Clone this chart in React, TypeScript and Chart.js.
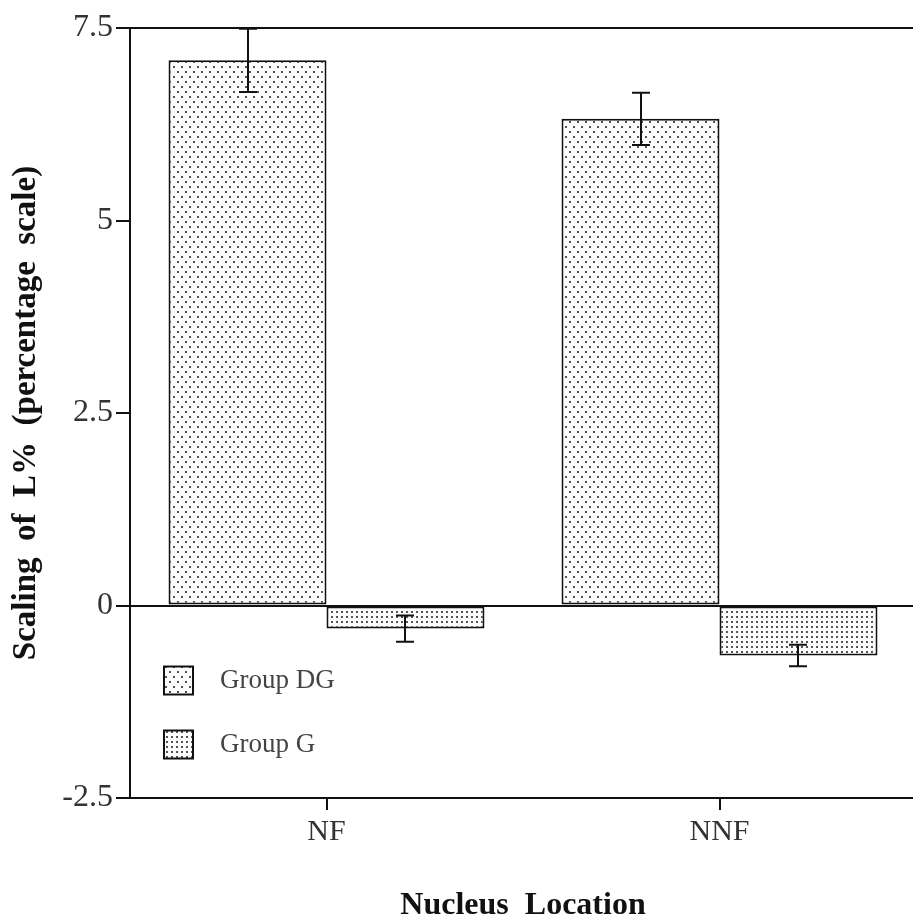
import React, { useEffect, useRef } from "react";
import { Chart, registerables } from "chart.js";

Chart.register(...registerables);

const categories = ["NF", "NNF"];
const groupDG = [7.08, 6.32];
const groupDGErr = [0.41, 0.34];
const groupG = [-0.3, -0.65];
const groupGErr = [0.17, 0.14];
const yTickValues = [-2.5, 0, 2.5, 5, 7.5];
const seriesNames = ["Group DG", "Group G"];
const xTitle = "Nucleus  Location";
const yTitle = "Scaling  of  L%  (percentage  scale)";

const FONT = "'Liberation Serif', 'Times New Roman', serif";

function makePattern(ctx: CanvasRenderingContext2D, w: number, h: number, dots: number[][], color: string) {
  const c = document.createElement("canvas");
  c.width = w;
  c.height = h;
  const g = c.getContext("2d")!;
  g.fillStyle = "#fdfdfd";
  g.fillRect(0, 0, w, h);
  g.fillStyle = color;
  dots.forEach(([x, y]) => g.fillRect(x, y, 2, 2));
  return ctx.createPattern(c, "repeat")!;
}

export default function App() {
  const ref = useRef<HTMLCanvasElement | null>(null);

  useEffect(() => {
    document.body.style.margin = "0";
    const canvas = ref.current!;
    const ctx = canvas.getContext("2d")!;
    const patDG = makePattern(ctx, 8, 10, [[1, 1], [5, 6]], "#555");
    const patG = makePattern(ctx, 5, 5, [[1, 1]], "#555");
    const patterns = [patDG, patG];
    const errors = [groupDGErr, groupGErr];

    const errorBars = {
      id: "errorBars",
      afterDatasetsDraw(chart: any) {
        const c = chart.ctx;
        const y = chart.scales.y;
        c.save();
        c.strokeStyle = "#111";
        c.lineWidth = 2;
        chart.data.datasets.forEach((ds: any, i: number) => {
          const meta = chart.getDatasetMeta(i);
          meta.data.forEach((bar: any, j: number) => {
            const v = ds.data[j];
            const e = errors[i][j];
            const top = y.getPixelForValue(v + e);
            const bot = y.getPixelForValue(v - e);
            const x = Math.round(bar.x);
            c.beginPath();
            c.moveTo(x, top);
            c.lineTo(x, bot);
            c.moveTo(x - 9, top);
            c.lineTo(x + 9, top);
            c.moveTo(x - 9, bot);
            c.lineTo(x + 9, bot);
            c.stroke();
          });
        });
        c.restore();
      },
    };

    const customLegend = {
      id: "customLegend",
      afterDraw(chart: any) {
        const c = chart.ctx;
        const y = chart.scales.y;
        const rows = [y.getPixelForValue(0) + 75, y.getPixelForValue(0) + 139];
        c.save();
        seriesNames.forEach((name, i) => {
          const cy = rows[i];
          c.fillStyle = patterns[i];
          c.fillRect(164, cy - 14, 29, 28);
          c.strokeStyle = "#111";
          c.lineWidth = 2;
          c.strokeRect(164, cy - 14, 29, 28);
          c.fillStyle = "#444";
          c.font = `27px ${FONT}`;
          c.textBaseline = "middle";
          c.textAlign = "left";
          c.fillText(name, 220, cy);
        });
        c.restore();
      },
    };

    const chart = new Chart(canvas, {
      type: "bar",
      data: {
        labels: categories,
        datasets: [
          {
            label: seriesNames[0],
            data: groupDG,
            backgroundColor: patDG,
            borderColor: "#111",
            borderWidth: 2,
            borderSkipped: false,
          },
          {
            label: seriesNames[1],
            data: groupG,
            backgroundColor: patG,
            borderColor: "#111",
            borderWidth: 2,
            borderSkipped: false,
          },
        ],
      },
      options: {
        responsive: false,
        animation: false,
        devicePixelRatio: 1,
        layout: { padding: { top: 28, right: 4, left: 0, bottom: 0 } },
        datasets: { bar: { categoryPercentage: 0.804, barPercentage: 1 } },
        plugins: {
          legend: { display: false },
          tooltip: { enabled: false },
        },
        scales: {
          x: {
            afterFit: (s: any) => {
              s.height = 124;
            },
            grid: {
              offset: false,
              drawOnChartArea: false,
              tickLength: 12,
              tickColor: "#111",
              lineWidth: 2,
            },
            border: { display: true, color: "#111", width: 2 },
            ticks: {
              color: "#333",
              padding: 4,
              font: { family: FONT, size: 30 },
            },
            title: {
              display: true,
              text: xTitle,
              color: "#111",
              font: { family: FONT, size: 32, weight: "bold", lineHeight: 1 },
              padding: { top: 0, bottom: 0 },
            },
          },
          y: {
            min: -2.5,
            max: 7.5,
            afterFit: (s: any) => {
              s.width = 130;
            },
            afterBuildTicks: (s: any) => {
              s.ticks = yTickValues.map((v) => ({ value: v }));
            },
            grid: {
              color: (c: any) =>
                c.tick && (c.tick.value === 0 || c.tick.value === 7.5) ? "#111" : "rgba(0,0,0,0)",
              tickColor: "#111",
              lineWidth: 2,
              tickLength: 14,
            },
            border: { display: true, color: "#111", width: 2 },
            ticks: {
              color: "#333",
              padding: 3,
              font: { family: FONT, size: 32 },
              callback: (v: any) => String(v),
            },
            title: {
              display: true,
              text: yTitle,
              color: "#111",
              font: { family: FONT, size: 33, weight: "bold", lineHeight: 1 },
              padding: { top: 10, bottom: 0 },
            },
          },
        },
      },
      plugins: [errorBars, customLegend],
    });
    return () => chart.destroy();
  }, []);

  return (
    <div style={{ width: 913, height: 922, overflow: "hidden", position: "relative", background: "#fff" }}>
      <canvas ref={ref} width={920} height={922} style={{ display: "block" }} />
    </div>
  );
}
